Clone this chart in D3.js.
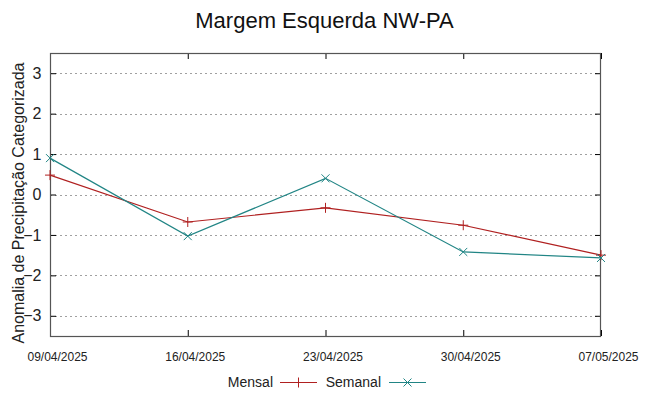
<!DOCTYPE html>
<html>
<head>
<meta charset="utf-8">
<script src="https://cdn.jsdelivr.net/npm/d3@7"></script>
<style>
  body { margin: 0; background: #fff; }
  text { font-family: "Liberation Sans", Arial, sans-serif; }
</style>
</head>
<body>
<div id="chart"></div>
<script>
const dates = ["09/04/2025", "16/04/2025", "23/04/2025", "30/04/2025", "07/05/2025"];
const mensal = [0.48, -0.68, -0.33, -0.76, -1.50];
const semanal = [0.90, -1.03, 0.40, -1.42, -1.57];
const yTicks = [-3, -2, -1, 0, 1, 2, 3];

const width = 649;
const height = 396;
const margin = { top: 53, right: 48, bottom: 60, left: 50 };

const svg = d3.select("#chart").append("svg")
    .attr("width", width)
    .attr("height", height);

const x = d3.scalePoint()
    .domain(dates)
    .range([margin.left, width - margin.right]);

const y = d3.scaleLinear()
    .domain([-3.5, 3.5])
    .range([height - margin.bottom, margin.top]);

// grid lines
svg.append("g")
    .selectAll("line")
    .data(yTicks)
    .enter().append("line")
    .attr("x1", margin.left)
    .attr("x2", width - margin.right)
    .attr("y1", d => Math.round(y(d)) + 0.5)
    .attr("y2", d => Math.round(y(d)) + 0.5)
    .style("stroke", "#a0a0a0")
    .style("stroke-width", 1)
    .style("stroke-dasharray", "2,3");

// left axis
const yAxis = svg.append("g")
    .attr("transform", `translate(${margin.left},0)`)
    .call(d3.axisLeft(y).tickValues(yTicks).tickSize(-6).tickPadding(8.5).tickFormat(d3.format("d")));
yAxis.select(".domain").remove();
yAxis.selectAll("line").style("stroke", "#000");
yAxis.selectAll("text").style("font-size", "16px").style("fill", "#222")
    .attr("font-family", "Liberation Sans, Arial, sans-serif");

// right ticks
const yAxisR = svg.append("g")
    .attr("transform", `translate(${width - margin.right},0)`)
    .call(d3.axisRight(y).tickValues(yTicks).tickSize(-6).tickFormat(""));
yAxisR.select(".domain").remove();
yAxisR.selectAll("line").style("stroke", "#000");

// bottom axis
const xAxis = svg.append("g")
    .attr("transform", `translate(0,${height - margin.bottom})`)
    .call(d3.axisBottom(x).tickSize(-6).tickPadding(16.5));
xAxis.select(".domain").remove();
xAxis.selectAll("line").style("stroke", "#000");
xAxis.selectAll("text").style("font-size", "12px").style("fill", "#222")
    .attr("dx", 7)
    .attr("font-family", "Liberation Sans, Arial, sans-serif");

// top ticks
const xAxisT = svg.append("g")
    .attr("transform", `translate(0,${margin.top})`)
    .call(d3.axisTop(x).tickSize(-6).tickFormat(""));
xAxisT.select(".domain").remove();
xAxisT.selectAll("line").style("stroke", "#000");

// frame
svg.append("rect")
    .attr("x", margin.left + 0.5)
    .attr("y", margin.top + 0.5)
    .attr("width", width - margin.left - margin.right - 1)
    .attr("height", height - margin.top - margin.bottom)
    .style("fill", "none")
    .style("stroke", "#555")
    .style("stroke-width", 1.2);

const series = [
    { name: "Mensal", values: mensal, color: "#b02020", marker: "plus" },
    { name: "Semanal", values: semanal, color: "#218585", marker: "cross" }
];

const line = d3.line()
    .x((d, i) => x(dates[i]))
    .y(d => y(d));

function drawMarker(g, type, cx, cy, color) {
    const s = 5;
    if (type === "plus") {
        g.append("path")
            .attr("d", `M${cx - s},${cy}H${cx + s}M${cx},${cy - s}V${cy + s}`)
            .style("stroke", color).style("stroke-width", 1);
    } else {
        const r = 4;
        g.append("path")
            .attr("d", `M${cx - r},${cy - r}L${cx + r},${cy + r}M${cx - r},${cy + r}L${cx + r},${cy - r}`)
            .style("stroke", color).style("stroke-width", 1);
    }
}

series.forEach(s => {
    svg.append("path")
        .datum(s.values)
        .attr("d", line)
        .style("fill", "none")
        .style("stroke", s.color)
        .style("stroke-width", 1.2);
    const g = svg.append("g");
    s.values.forEach((v, i) => drawMarker(g, s.marker, x(dates[i]), y(v), s.color));
});

// title
svg.append("text")
    .attr("x", 324.5)
    .attr("y", 28)
    .attr("text-anchor", "middle")
    .style("font-size", "22px")
    .style("fill", "#111")
    .text("Margem Esquerda NW-PA");

// y label
svg.append("text")
    .attr("transform", `translate(23.5,203) rotate(-90)`)
    .attr("text-anchor", "middle")
    .style("font-size", "16px")
    .style("fill", "#222")
    .text("Anomalia de Precipitação Categorizada");

// legend
const legendY = 382;
const legendItems = [
    { s: series[0], textEnd: 273, lineX: 280 },
    { s: series[1], textEnd: 381, lineX: 389 }
];
legendItems.forEach(item => {
    svg.append("text")
        .attr("x", item.textEnd)
        .attr("y", legendY + 5)
        .attr("text-anchor", "end")
        .style("font-size", "14px")
        .style("fill", "#222")
        .text(item.s.name);
    svg.append("line")
        .attr("x1", item.lineX)
        .attr("x2", item.lineX + 37)
        .attr("y1", legendY + 0.5)
        .attr("y2", legendY + 0.5)
        .style("stroke", item.s.color)
        .style("stroke-width", 1.2);
    drawMarker(svg, item.s.marker, item.lineX + 18.5, legendY + 0.5, item.s.color);
});
</script>
</body>
</html>
